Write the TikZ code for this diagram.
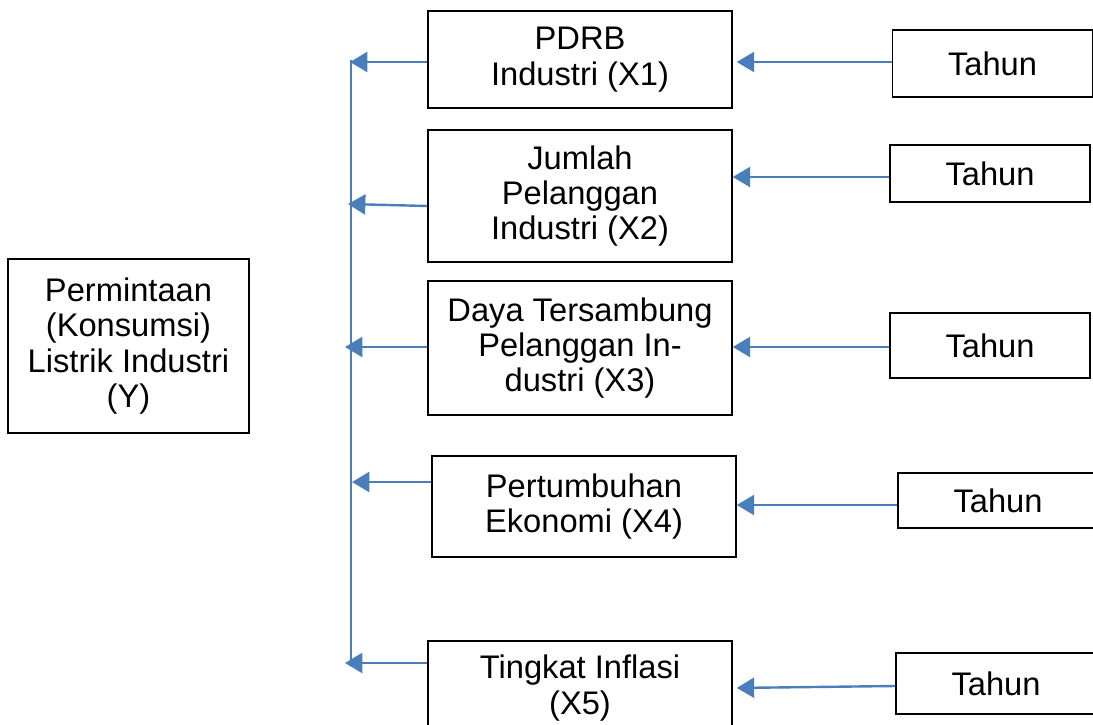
\documentclass[tikz,border=0pt]{standalone}
\usepackage{fontspec}
\setmainfont{Liberation Sans}
\usetikzlibrary{arrows.meta}
\definecolor{linkblue}{HTML}{4A7EBB}
\tikzset{
  every picture/.style={
    >={Triangle[width=15pt, length=13pt]}
  },
  box/.style={
    draw, line width=1.2pt, align=center, inner sep=0pt,
    font=\fontsize{24.5}{26.5}\selectfont
  },
  link/.style={
    draw=linkblue, line width=1.8pt, ->
  }
}
\begin{document}
\begin{tikzpicture}[
      x=0.75pt, y=-0.75pt,
      wide/.style={box, minimum width=304*0.75pt},
      year/.style={box, minimum width=200*0.75pt}
    ]
      \path[use as bounding box, clip] (0,0) rectangle (1093,725);
      \node [box, minimum width=241*0.75pt, minimum height=174*0.75pt] (y) at (128.5,346)
        {Permintaan\\(Konsumsi)\\Listrik Industri\\(Y)};
      \node [wide, minimum height=97*0.75pt] (x1) at (580,59.5) {PDRB\\Industri (X1)};
      \node [wide, minimum height=132*0.75pt] (x2) at (580,196) {Jumlah\\Pelanggan\\Industri (X2)};
      \node [wide, minimum height=134*0.75pt] (x3) at (580,348) {Daya Tersambung\\Pelanggan In-\\dustri (X3)};
      \node [wide, minimum height=101*0.75pt] (x4) at (584,506.5) {Pertumbuhan\\Ekonomi (X4)};
      \node [wide, minimum height=94*0.75pt] (x5) at (580,688) {Tingkat Inflasi\\(X5)};
      \node [year, minimum height=67*0.75pt] (t1) at (992.5,63.5) {Tahun};
      \node [year, minimum height=57*0.75pt] (t2) at (990,173.5) {Tahun};
      \node [year, minimum height=65*0.75pt] (t3) at (990,345.5) {Tahun};
      \node [year, minimum height=55*0.75pt] (t4) at (998,500.5) {Tahun};
      \node [year, minimum height=61*0.75pt] (t5) at (996,683.5) {Tahun};
      \coordinate (top) at (351,60);
      \coordinate (bot) at (351,662);
      \coordinate (a1) at (350,62);
      \coordinate (a2) at (348,204);
      \coordinate (a3) at (345,347);
      \coordinate (a4) at (352,482);
      \coordinate (a5) at (345,663);
      \draw [draw=linkblue, line width=1.8pt] (top) -- (bot);
      \draw [link] (x1.west |- a1) -- (a1);
      \draw [link] (x2.west |- 0,206) -- (a2);
      \draw [link] (x3.west |- a3) -- (a3);
      \draw [link] (x4.west |- a4) -- (a4);
      \draw [link] (x5.west |- a5) -- (a5);
      \draw [link, shorten >=3pt] (t1.west |- 0,62) -- (x1.east |- 0,62);
      \draw [link] (t2.west |- 0,177) -- (x2.east |- 0,177);
      \draw [link] (t3.west |- 0,347) -- (x3.east |- 0,347);
      \draw [link] (t4.west |- 0,505) -- (x4.east |- 0,505);
      \draw [link, shorten >=3pt] (t5.west |- 0,686) -- (x5.east |- 0,688);
    \end{tikzpicture}
\end{document}
